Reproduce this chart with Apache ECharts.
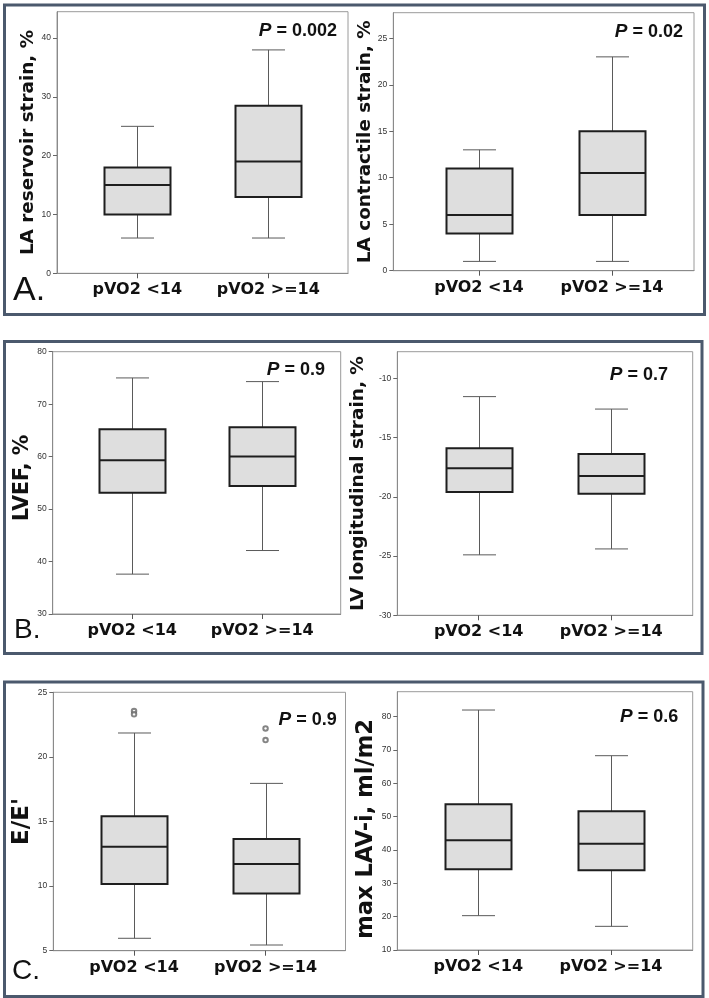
<!DOCTYPE html>
<html><head><meta charset="utf-8">
<script src="https://cdn.jsdelivr.net/npm/echarts@6/dist/echarts.min.js"></script>
<style>html,body{margin:0;padding:0;background:#fff}#c{width:709px;height:998px}</style>
</head><body><div id="c"></div>
<script>
// ---------- data ----------
const categories = ['pVO2 <14', 'pVO2 >=14'];
// each group: [min, Q1, median, Q3, max]
const laReservoir   = [[6, 10, 15, 18, 25], [6, 13, 19, 28.5, 38]];
const laContractile = [[1, 4, 6, 11, 13], [1, 6, 10.5, 15, 23]];
const lvef          = [[37.6, 53.1, 59.3, 65.2, 75], [42.1, 54.4, 60, 65.6, 74.3]];
const lvStrain      = [[-24.9, -19.6, -17.6, -15.9, -11.55], [-24.4, -19.75, -18.25, -16.4, -12.6]];
const eOverE        = [[5.96, 10.17, 13.04, 15.4, 21.85], [5.44, 9.42, 11.72, 13.64, 17.95]];
const eOverEOutliers = [[23.55, 23.3], [22.2, 21.3]];
const maxLavi       = [[20.3, 34.2, 42.9, 53.7, 82], [17.1, 33.9, 41.9, 51.6, 68.3]];

const yTitles = ['LA reservoir strain, %', 'LA contractile strain, %', 'LVEF, %',
                 'LV longitudinal strain, %', "E/E'", 'max LAV-i, ml/m2'];
const yTicks = [[0, 10, 20, 30, 40], [0, 5, 10, 15, 20, 25], [30, 40, 50, 60, 70, 80],
                [-30, -25, -20, -15, -10], [5, 10, 15, 20, 25], [10, 20, 30, 40, 50, 60, 70, 80]];
const yRanges = [[0, 44.5], [0, 27.75], [30, 80], [-30, -7.76], [5, 25], [10, 87.5]];
const pValues = ['0.002', '0.02', '0.9', '0.7', '0.9', '0.6'];
const panelLabels = ['A.', 'B.', 'C.'];

const seriesValues = [laReservoir, laContractile, lvef, lvStrain, eOverE, maxLavi];
const outlierSets = [null, null, null, null, eOverEOutliers, null];

// ---------- layout (pixels) ----------
const layouts = [
  {left: 57,    top: 11.7,  width: 291,   height: 261.6, xMin: -0.613, xMax: 1.608, nameGap: 19, nameSize: 18.4, namePad: [0, 0, 0, 0],  pRight: 337,   pBase: 38.5},
  {left: 393.3, top: 12.7,  width: 300.7, height: 258,   xMin: -0.644, xMax: 1.617, nameGap: 15, nameSize: 18.4, namePad: [0, 0, 0, 0],  pRight: 683,   pBase: 39.5},
  {left: 52.7,  top: 351.7, width: 288,   height: 262.3, xMin: -0.612, xMax: 1.604, nameGap: 19, nameSize: 20.5, namePad: [0, 0, 0, 10], pRight: 325,   pBase: 377.5},
  {left: 397.3, top: 351.7, width: 295.4, height: 263.6, xMin: -0.614, xMax: 1.615, nameGap: 30, nameSize: 18.5, namePad: [0, 0, 0, 0],  pRight: 668,   pBase: 382.5},
  {left: 53.3,  top: 692.3, width: 292.2, height: 258.4, xMin: -0.614, xMax: 1.608, nameGap: 18, nameSize: 23,   namePad: [0, 0, 0, 0],  pRight: 336.7, pBase: 727.5},
  {left: 397.3, top: 691.7, width: 295.4, height: 258.3, xMin: -0.61,  xMax: 1.616, nameGap: 19, nameSize: 22.6, namePad: [0, 16, 0, 0], pRight: 678.3, pBase: 724.5}
];
const panelFrames = [
  {x: 4.5, y: 5,     w: 700,   h: 309.5, lx: 13, lBase: 305, lSize: 34},
  {x: 4.5, y: 341.5, w: 697.5, h: 312,   lx: 14, lBase: 642, lSize: 28},
  {x: 4.5, y: 682,   w: 698.5, h: 314.5, lx: 12, lBase: 983, lSize: 28}
];

const BOX_W = 66, CAP_W = 33;
const catIdx = categories.map((c, i) => i);

function renderBox(params, api) {
  const x = api.value(0);
  const pMin = api.coord([x, api.value(1)]);
  const pQ1 = api.coord([x, api.value(2)]);
  const pMed = api.coord([x, api.value(3)]);
  const pQ3 = api.coord([x, api.value(4)]);
  const pMax = api.coord([x, api.value(5)]);
  const cx = Math.round(pMin[0]) + 0.5;
  const hw = BOX_W / 2, cw = CAP_W / 2;
  const whisk = {stroke: '#5a5a5a', lineWidth: 1};
  const dark = {stroke: '#1e1e1e', lineWidth: 2};
  return {type: 'group', children: [
    {type: 'line', shape: {x1: cx, y1: pMax[1], x2: cx, y2: pQ3[1]}, style: whisk},
    {type: 'line', shape: {x1: cx, y1: pQ1[1], x2: cx, y2: pMin[1]}, style: whisk},
    {type: 'line', shape: {x1: cx - cw, y1: pMax[1], x2: cx + cw, y2: pMax[1]}, style: whisk},
    {type: 'line', shape: {x1: cx - cw, y1: pMin[1], x2: cx + cw, y2: pMin[1]}, style: whisk},
    {type: 'rect', shape: {x: cx - hw, y: pQ3[1], width: BOX_W, height: pQ1[1] - pQ3[1]},
      style: {fill: '#dedede', stroke: '#1e1e1e', lineWidth: 2}},
    {type: 'line', shape: {x1: cx - hw, y1: pMed[1], x2: cx + hw, y2: pMed[1]}, style: dark}
  ]};
}

const grids = [], xAxes = [], yAxes = [], series = [], graphics = [];
layouts.forEach((L, i) => {
  grids.push({left: L.left, top: L.top, width: L.width, height: L.height,
    show: true, borderColor: '#9a9a9a', borderWidth: 1, backgroundColor: '#fff'});
  xAxes.push({
    gridIndex: i, type: 'value', min: L.xMin, max: L.xMax,
    axisLine: {show: true, onZero: false, lineStyle: {color: '#8a8a8a', width: 1}},
    axisTick: {show: true, customValues: catIdx, length: 5, lineStyle: {color: '#555'}},
    axisLabel: {customValues: catIdx, formatter: v => categories[Math.round(v)], margin: 9,
      fontFamily: 'DejaVu Sans', fontWeight: 'bold', fontSize: 16, color: '#111'},
    splitLine: {show: false}
  });
  yAxes.push({
    gridIndex: i, type: 'value', min: yRanges[i][0], max: yRanges[i][1],
    name: yTitles[i], nameLocation: 'middle', nameGap: L.nameGap,
    nameTextStyle: {fontFamily: 'DejaVu Sans', fontWeight: 'bold', fontSize: L.nameSize, color: '#111', padding: L.namePad},
    axisLine: {show: true, onZero: false, lineStyle: {color: '#8a8a8a', width: 1}},
    axisTick: {show: true, customValues: yTicks[i], length: 4, lineStyle: {color: '#666'}},
    axisLabel: {customValues: yTicks[i], margin: 6, fontSize: 8.5, color: '#333', fontFamily: 'Liberation Sans'},
    splitLine: {show: false}
  });
  series.push({
    type: 'custom', xAxisIndex: i, yAxisIndex: i, clip: false,
    encode: {x: 0, y: [1, 2, 3, 4, 5]},
    renderItem: renderBox,
    data: seriesValues[i].map((v, g) => [g].concat(v))
  });
  if (outlierSets[i]) {
    const pts = [];
    outlierSets[i].forEach((vals, g) => vals.forEach(v => pts.push([g, v])));
    series.push({
      type: 'scatter', xAxisIndex: i, yAxisIndex: i, symbol: 'emptyCircle', symbolSize: 4.5,
      itemStyle: {color: '#666', borderWidth: 1}, data: pts, z: 5
    });
  }
  graphics.push({
    type: 'text', right: 709 - L.pRight, top: L.pBase - 17, z: 10,
    style: {
      text: '{p|P}{v| = ' + pValues[i] + '}',
      rich: {
        p: {fontFamily: 'Liberation Sans', fontWeight: 'bold', fontStyle: 'italic', fontSize: 19, fill: '#111'},
        v: {fontFamily: 'Liberation Sans', fontWeight: 'bold', fontSize: 18, fill: '#111'}
      }
    }
  });
});

panelFrames.forEach((F, i) => {
  graphics.push({type: 'rect', z: 1, shape: {x: F.x, y: F.y, width: F.w, height: F.h},
    style: {fill: 'none', stroke: '#4b596d', lineWidth: 3}});
  graphics.push({type: 'text', left: F.lx, top: F.lBase - F.lSize * 0.93, z: 10,
    style: {text: panelLabels[i], fontFamily: 'Liberation Sans', fontSize: F.lSize, fill: '#111'}});
});

const chart = echarts.init(document.getElementById('c'), null, {renderer: 'canvas'});
chart.setOption({
  animation: false,
  backgroundColor: '#fff',
  grid: grids, xAxis: xAxes, yAxis: yAxes, series: series, graphic: graphics
});
</script></body></html>
